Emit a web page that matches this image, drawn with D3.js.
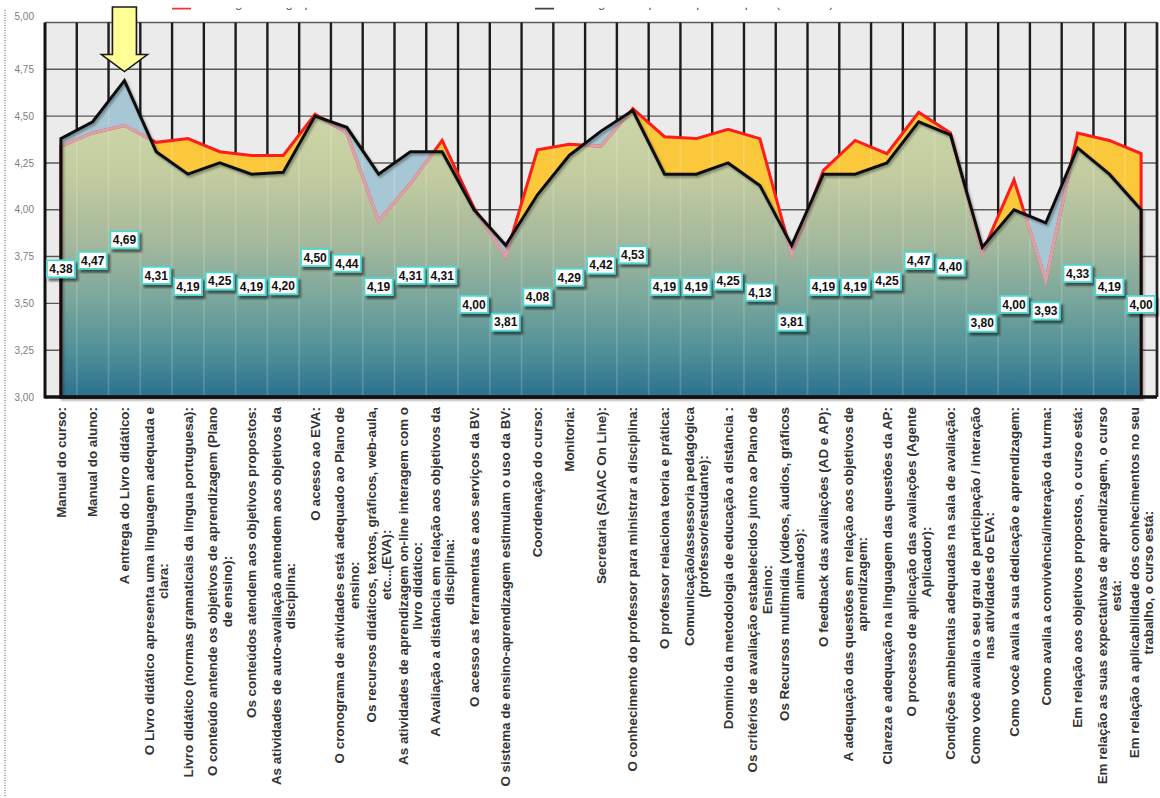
<!DOCTYPE html>
<html>
<head>
<meta charset="utf-8">
<script src="https://cdn.jsdelivr.net/npm/d3@7"></script>
<style>
  body { margin: 0; background: #fff; }
  svg { display: block; font-family: "Liberation Sans", Arial, sans-serif; }
</style>
</head>
<body>
<svg id="chart" width="1160" height="798"></svg>
<script>
// Questions of the evaluation (line breaks as printed under the axis)
const categories = [
  ["Manual do curso:"],
  ["Manual do aluno:"],
  ["A entrega do Livro didático:"],
  ["O Livro didático apresenta uma linguagem adequada e", "clara:"],
  ["Livro didático (normas gramaticais da língua portuguesa):"],
  ["O conteúdo antende os objetivos de aprendizagem (Plano", "de ensino):"],
  ["Os conteúdos atendem aos objetivos propostos:"],
  ["As atividades de auto-avaliação antendem aos objetivos da", "disciplina:"],
  ["O acesso ao EVA:"],
  ["O cronograma de atividades está adequado ao Plano de", "ensino:"],
  ["Os recursos didáticos, textos, gráficos, web-aula,", "etc...(EVA):"],
  ["As atividades de aprendizagem on-line interagem com o", "livro didático:"],
  ["A Avaliação a distância em relação aos objetivos da", "disciplina:"],
  ["O acesso as ferramentas e aos serviços da BV:"],
  ["O sistema de ensino-aprendizagem estimulam o uso da BV:"],
  ["Coordenação do curso:"],
  ["Monitoria:"],
  ["Secretaria (SAIAC On Line):"],
  ["O conhecimento do professor para ministrar a disciplina:"],
  ["O professor relaciona teoria e prática:"],
  ["Comunicação/assessoria pedagógica", "(professor/estudante):"],
  ["Domínio da metodologia de educação a distância :"],
  ["Os critérios de avaliação estabelecidos junto ao Plano de", "Ensino:"],
  ["Os Recursos multimídia (vídeos, áudios, gráficos", "animados):"],
  ["O feedback das avaliações (AD e AP):"],
  ["A adequação das questões em relação aos objetivos de", "aprendizagem:"],
  ["Clareza e adequação na linguagem das questões da AP:"],
  ["O processo de aplicação das avaliações (Agente", "Aplicador):"],
  ["Condições ambientais adequadas na sala de avaliação:"],
  ["Como você avalia o seu grau de participação / interação", "nas atividades do EVA:"],
  ["Como você avalia a sua dedicação e aprendizagem:"],
  ["Como avalia a convivência/interação da turma:"],
  ["Em relação aos objetivos propostos, o curso está:"],
  ["Em relação as suas expectativas de aprendizagem, o curso", "está:"],
  ["Em relação a aplicabilidade dos conhecimentos no seu", "trabalho, o curso está:"]
];

// Course average (black line, labelled values)
const mediaCurso = [4.38, 4.47, 4.69, 4.31, 4.19, 4.25, 4.19, 4.20, 4.50, 4.44,
                    4.19, 4.31, 4.31, 4.00, 3.81, 4.08, 4.29, 4.42, 4.53, 4.19,
                    4.19, 4.25, 4.13, 3.81, 4.19, 4.19, 4.25, 4.47, 4.40, 3.80,
                    4.00, 3.93, 4.33, 4.19, 4.00];

// Overall average (red line)
const mediaGeral = [4.34, 4.41, 4.45, 4.36, 4.38, 4.31, 4.29, 4.29, 4.51, 4.41,
                    3.94, 4.14, 4.37, 4.01, 3.75, 4.32, 4.35, 4.34, 4.54, 4.39,
                    4.38, 4.43, 4.38, 3.76, 4.21, 4.37, 4.30, 4.52, 4.41, 3.77,
                    4.16, 3.62, 4.41, 4.37, 4.30];

const yTicks = [3.00, 3.25, 3.50, 3.75, 4.00, 4.25, 4.50, 4.75, 5.00];
const legendNames = ["Média geral do grupo", "Média geral do período por disciplina (AD e AP)"];
const highlighted = 2;   // question marked with the arrow

const fmt = v => d3.format(".2f")(v).replace(".", ",");
const n = categories.length;

const svg = d3.select("#chart");
const pLeft = 45, pRight = 1157, pTop = 22.5, pBottom = 397;

const x = d3.scaleBand().domain(d3.range(n)).range([pLeft, pRight]);
const cx = i => x(i) + x.bandwidth() / 2;
const y = d3.scaleLinear().domain([3, 5]).range([pBottom, pTop]);

const defs = svg.append("defs");

// vertical fill gradient: pale sage at the top, teal at the base
const grad = defs.append("linearGradient").attr("id", "fillGrad")
  .attr("gradientUnits", "userSpaceOnUse")
  .attr("x1", 0).attr("x2", 0).attr("y1", y(4.7)).attr("y2", y(3));
[[0, "#d3dcae"], [0.3, "#c3cc9f"], [0.52, "#a3b89c"], [0.7, "#78a69c"],
 [0.86, "#4f8f98"], [1, "#2a7190"]].forEach(([o, c]) =>
  grad.append("stop").attr("offset", o).attr("stop-color", c));

const shadow = defs.append("filter").attr("id", "shadow")
  .attr("x", "-20%").attr("y", "-20%").attr("width", "150%").attr("height", "150%");
shadow.append("feDropShadow").attr("dx", 2.5).attr("dy", 3)
  .attr("stdDeviation", 1.3).attr("flood-color", "#000").attr("flood-opacity", 0.55);

const lineShadow = defs.append("filter").attr("id", "lineShadow")
  .attr("x", "-5%").attr("y", "-5%").attr("width", "110%").attr("height", "110%");
lineShadow.append("feDropShadow").attr("dx", 1.5).attr("dy", 2)
  .attr("stdDeviation", 1.2).attr("flood-color", "#000").attr("flood-opacity", 0.35);

const areaOf = arr => d3.area()
  .x((d, i) => cx(i)).y0(y(3)).y1(d => y(d))(arr);

defs.append("clipPath").attr("id", "clipCurso")
  .append("path").attr("d", areaOf(mediaCurso));
const clipBoth = defs.append("clipPath").attr("id", "clipBoth");
clipBoth.append("path").attr("d", areaOf(mediaCurso));
clipBoth.append("path").attr("d", areaOf(mediaGeral));

// plot background and grid
svg.append("rect").attr("x", pLeft).attr("y", pTop)
  .attr("width", pRight - pLeft).attr("height", pBottom - pTop).attr("fill", "#ebebeb");

svg.append("g").selectAll("line").data(yTicks).join("line")
  .attr("x1", pLeft).attr("x2", pRight)
  .attr("y1", d => y(d)).attr("y2", d => y(d))
  .attr("stroke", "#5a5a5a").attr("stroke-width", 1.4);

svg.append("g").selectAll("line").data(d3.range(1, n + 1)).join("line")
  .attr("x1", i => i < n ? x(i) : pRight).attr("x2", i => i < n ? x(i) : pRight)
  .attr("y1", pTop).attr("y2", pBottom)
  .attr("stroke", "#1c1c1c").attr("stroke-width", 2.4);

// filled areas
svg.append("path").attr("d", areaOf(mediaCurso)).attr("fill", "#a6c7d3");
svg.append("path").attr("d", areaOf(mediaGeral)).attr("fill", "#fbc73b");
svg.append("path").attr("d", areaOf(mediaGeral)).attr("fill", "url(#fillGrad)")
  .attr("clip-path", "url(#clipCurso)");

// light traces of the vertical grid through the fills
svg.append("g").attr("clip-path", "url(#clipBoth)")
  .selectAll("line").data(d3.range(1, n)).join("line")
  .attr("x1", i => x(i)).attr("x2", i => x(i))
  .attr("y1", pTop).attr("y2", pBottom)
  .attr("stroke", "#fff").attr("stroke-opacity", 0.18).attr("stroke-width", 1.6);

// red outline; where it runs under the blue layer it reads pink
svg.append("path").attr("d", areaOf(mediaGeral))
  .attr("fill", "none").attr("stroke", "#ff1c1c").attr("stroke-width", 3)
  .attr("stroke-linejoin", "miter");
svg.append("path").attr("d", areaOf(mediaGeral))
  .attr("fill", "none").attr("stroke", "#d7a2aa").attr("stroke-width", 3.2)
  .attr("clip-path", "url(#clipCurso)");

// black outline
svg.append("path").attr("d", areaOf(mediaCurso))
  .attr("fill", "none").attr("stroke", "#111").attr("stroke-width", 3)
  .attr("stroke-linejoin", "miter").attr("filter", "url(#lineShadow)");

// axis frame
svg.append("line").attr("x1", pLeft).attr("x2", pLeft).attr("y1", pTop).attr("y2", pBottom + 1.5)
  .attr("stroke", "#111").attr("stroke-width", 3);
svg.append("line").attr("x1", pLeft).attr("x2", pRight).attr("y1", pBottom).attr("y2", pBottom)
  .attr("stroke", "#111").attr("stroke-width", 3.5);
svg.append("line").attr("x1", pRight).attr("x2", pRight).attr("y1", pTop).attr("y2", pBottom)
  .attr("stroke", "#222").attr("stroke-width", 2.4);

// y axis labels
const yAxis = svg.append("g").attr("transform", `translate(${pLeft},0)`)
  .call(d3.axisLeft(y).tickValues(yTicks).tickFormat(fmt).tickSize(0).tickPadding(11));
yAxis.select(".domain").remove();
yAxis.selectAll("text").attr("fill", "#7d7d7d").style("font-size", "10px")
  .style("font-family", '"Liberation Sans", Arial, sans-serif');
yAxis.selectAll(".tick").filter(d => d === 5).select("text").attr("dy", "-0.3em");

// value labels, centred between each point and the base
const vl = svg.append("g").selectAll("g").data(mediaCurso).join("g")
  .attr("transform", (d, i) => `translate(${cx(i)},${(y(d) + y(3)) / 2 + 1})`);
vl.append("rect").attr("x", -14).attr("y", -8.5).attr("width", 28).attr("height", 17)
  .attr("fill", "#fff").attr("stroke", "#4ed8cf").attr("stroke-width", 1.8)
  .attr("filter", "url(#shadow)");
vl.append("text").attr("text-anchor", "middle").attr("dy", "0.36em")
  .attr("font-size", 12).attr("font-weight", "bold").attr("fill", "#111")
  .text(d => fmt(d));

// rotated category labels
const lineH = 14.5;
const xl = svg.append("g").attr("font-size", 13.4).attr("font-weight", "bold").attr("fill", "#333");
categories.forEach((lines, i) => {
  const g = xl.append("g").attr("transform", `translate(${cx(i)},407) rotate(-90)`);
  const texts = lines.map((t, j) => g.append("text")
    .attr("y", (j - (lines.length - 1) / 2) * lineH).attr("dy", "0.35em").text(t));
  const wmax = d3.max(texts, t => t.node().getComputedTextLength());
  texts.forEach(t => t.attr("x", -wmax / 2).attr("text-anchor", "middle"));
});

// legend, cut by the top edge of the page
const lgClip = defs.append("clipPath").attr("id", "lgClip");
lgClip.append("rect").attr("x", 0).attr("y", 7.8).attr("width", 1160).attr("height", 14);
const lg = svg.append("g").attr("clip-path", "url(#lgClip)").attr("font-size", 13).attr("fill", "#555");
const legendX = [172, 535];
const legendColors = ["#ff3030", "#444"];
legendNames.forEach((name, k) => {
  lg.append("line").attr("x1", legendX[k]).attr("x2", legendX[k] + 19)
    .attr("y1", 7.8).attr("y2", 7.8).attr("stroke", legendColors[k]).attr("stroke-width", 3.6);
  lg.append("text").attr("x", legendX[k] + 24).attr("y", 6.6).text(name);
});

// highlight arrow pointing at the marked question
const ax = cx(highlighted), tipY = y(mediaCurso[highlighted]) - 9, topY = 7;
const headY = tipY - 17;
svg.append("path")
  .attr("d", `M${ax - 12},${topY} L${ax + 12},${topY} L${ax + 12},${headY} L${ax + 23},${headY}
              L${ax},${tipY} L${ax - 23},${headY} L${ax - 12},${headY} Z`)
  .attr("fill", "#ffff96").attr("stroke", "#1a1a1a").attr("stroke-width", 1.6)
  .attr("stroke-linejoin", "miter");

// dotted edge on the left
svg.append("line").attr("x1", 5).attr("x2", 5).attr("y1", 10).attr("y2", 796)
  .attr("stroke", "#555").attr("stroke-width", 1).attr("stroke-dasharray", "1,1.5");
</script>
</body>
</html>
